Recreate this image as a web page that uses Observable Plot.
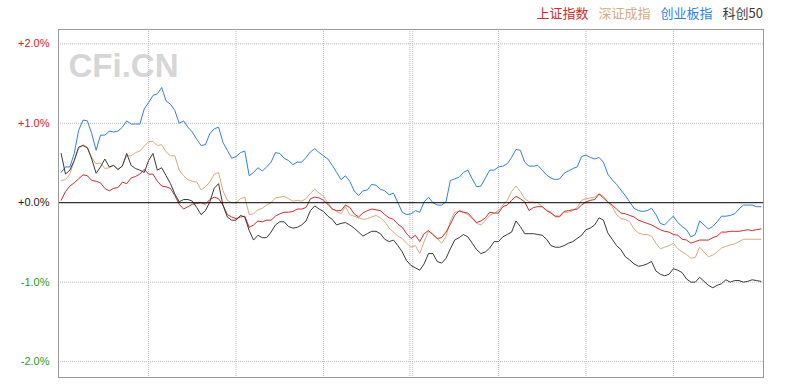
<!DOCTYPE html>
<html>
<head>
<meta charset="utf-8">
<script src="https://cdn.jsdelivr.net/npm/d3@7"></script>
<script src="https://cdn.jsdelivr.net/npm/@observablehq/plot@0.6"></script>
<style>
  html, body { margin: 0; padding: 0; background: #fff; }
  #wrap { position: relative; width: 800px; height: 385px; }
  #legend { position: absolute; top: 6px; right: 37px; font: 13px/14px "Noto Sans CJK SC", sans-serif; white-space: nowrap; }
  #legend span { margin-left: 10px; }
</style>
</head>
<body>
<div id="wrap">
  <div id="chart"></div>
  <div id="legend"></div>
</div>
<script>
// minutes since open (9:30), 1.5-minute samples
const times = [
  0,1.5,3,4.5,6,7.5,9,10.5,12,13.5,
  15,16.5,18,19.5,21,22.5,24,25.5,27,28.5,
  30,31.5,33,34.5,36,37.5,39,40.5,42,43.5,
  45,46.5,48,49.5,51,52.5,54,55.5,57,58.5,
  60,61.5,63,64.5,66,67.5,69,70.5,72,73.5,
  75,76.5,78,79.5,81,82.5,84,85.5,87,88.5,
  90,91.5,93,94.5,96,97.5,99,100.5,102,103.5,
  105,106.5,108,109.5,111,112.5,114,115.5,117,118.5,
  120,121.5,123,124.5,126,127.5,129,130.5,132,133.5,
  135,136.5,138,139.5,141,142.5,144,145.5,147,148.5,
  150,151.5,153,154.5,156,157.5,159,160.5,162,163.5,
  165,166.5,168,169.5,171,172.5,174,175.5,177,178.5,
  180,181.5,183,184.5,186,187.5,189,190.5,192,193.5,
  195,196.5,198,199.5,201,202.5,204,205.5,207,208.5,
  210,211.5,213,214.5,216,217.5,219,220.5,222,223.5,
  225,226.5,228,229.5,231,232.5,234,235.5,237,238.5,
  240];

const seriesNames = ["上证指数", "深证成指", "创业板指", "科创50"];
const seriesColors = ["#d42a2a", "#dba97c", "#2f7ff0", "#3a3a3a"];

// percent change vs previous close
const shIndex = [
  0.03,0.14,0.21,0.25,0.30,0.35,0.34,0.28,0.27,0.25,
  0.18,0.15,0.18,0.19,0.26,0.24,0.31,0.33,0.36,0.42,
  0.36,0.36,0.27,0.21,0.20,0.18,0.09,-0.02,-0.08,-0.05,
  -0.02,-0.01,0.00,-0.02,0.04,0.07,0.05,-0.03,-0.15,-0.18,
  -0.20,-0.18,-0.17,-0.31,-0.28,-0.23,-0.24,-0.22,-0.22,-0.17,
  -0.14,-0.12,-0.12,-0.11,-0.08,-0.08,-0.06,0.05,0.07,0.06,
  0.03,-0.02,-0.08,-0.10,-0.10,-0.03,-0.06,-0.14,-0.18,-0.13,
  -0.10,-0.08,-0.09,-0.10,-0.15,-0.19,-0.21,-0.27,-0.31,-0.39,
  -0.45,-0.41,-0.49,-0.39,-0.35,-0.40,-0.45,-0.44,-0.37,-0.27,
  -0.16,-0.10,-0.12,-0.13,-0.19,-0.25,-0.23,-0.19,-0.12,-0.13,
  -0.13,-0.05,-0.03,0.03,0.08,0.05,0.01,-0.10,-0.06,-0.05,
  -0.05,-0.10,-0.13,-0.17,-0.17,-0.11,-0.10,-0.09,-0.08,-0.03,
  0.01,0.03,0.04,0.11,0.06,0.01,-0.03,-0.08,-0.13,-0.14,
  -0.16,-0.18,-0.22,-0.24,-0.26,-0.28,-0.31,-0.34,-0.36,-0.37,
  -0.40,-0.41,-0.46,-0.47,-0.51,-0.49,-0.47,-0.47,-0.47,-0.44,
  -0.42,-0.37,-0.37,-0.36,-0.36,-0.36,-0.35,-0.34,-0.35,-0.34,
  -0.33];
const szIndex = [
  0.28,0.29,0.36,0.53,0.68,0.73,0.70,0.57,0.49,0.50,
  0.43,0.44,0.47,0.41,0.47,0.59,0.59,0.63,0.65,0.71,
  0.77,0.77,0.72,0.73,0.64,0.59,0.59,0.41,0.34,0.29,
  0.27,0.26,0.16,0.20,0.26,0.36,0.38,0.15,0.03,0.00,
  0.00,0.05,0.07,-0.15,-0.14,-0.09,-0.07,-0.03,0.00,0.06,
  0.07,0.08,0.05,0.02,0.03,0.02,0.05,0.12,0.17,0.12,
  0.08,0.00,-0.08,-0.11,-0.14,-0.05,-0.15,-0.17,-0.19,-0.21,
  -0.20,-0.18,-0.16,-0.19,-0.24,-0.32,-0.37,-0.42,-0.45,-0.51,
  -0.56,-0.54,-0.64,-0.49,-0.36,-0.40,-0.45,-0.51,-0.43,-0.23,
  -0.12,-0.11,-0.12,-0.15,-0.20,-0.26,-0.28,-0.22,-0.16,-0.13,
  -0.10,-0.03,0.03,0.14,0.21,0.14,0.05,0.01,0.01,0.00,
  -0.05,-0.09,-0.12,-0.18,-0.18,-0.12,-0.12,-0.10,-0.06,0.03,
  0.05,0.06,0.07,0.11,0.08,0.01,-0.05,-0.15,-0.20,-0.21,
  -0.24,-0.33,-0.38,-0.40,-0.40,-0.42,-0.51,-0.58,-0.56,-0.54,
  -0.51,-0.58,-0.62,-0.65,-0.70,-0.69,-0.56,-0.62,-0.68,-0.66,
  -0.62,-0.57,-0.55,-0.53,-0.52,-0.49,-0.46,-0.46,-0.46,-0.46,
  -0.46];
const cybIndex = [
  0.38,0.45,0.45,0.62,0.91,1.04,1.03,0.87,0.66,0.85,
  0.85,0.90,0.89,0.90,0.95,1.03,0.99,0.99,0.99,1.18,
  1.26,1.35,1.37,1.45,1.28,1.24,1.16,1.00,1.03,0.95,
  0.89,0.80,0.72,0.73,0.87,0.93,0.95,0.76,0.66,0.56,
  0.58,0.63,0.65,0.34,0.38,0.44,0.40,0.45,0.51,0.63,
  0.62,0.56,0.53,0.48,0.51,0.51,0.57,0.64,0.68,0.63,
  0.59,0.55,0.47,0.38,0.29,0.34,0.27,0.15,0.09,0.15,
  0.16,0.23,0.22,0.17,0.15,0.10,0.12,0.00,-0.12,-0.15,
  -0.14,-0.10,-0.12,0.01,0.07,0.00,-0.03,-0.03,0.01,0.28,
  0.30,0.32,0.38,0.41,0.30,0.20,0.21,0.31,0.41,0.41,
  0.45,0.46,0.49,0.57,0.67,0.66,0.51,0.46,0.46,0.47,
  0.41,0.35,0.31,0.29,0.30,0.37,0.40,0.43,0.45,0.58,
  0.60,0.57,0.55,0.57,0.51,0.36,0.29,0.23,0.16,0.09,
  0.01,-0.07,-0.10,-0.11,-0.10,-0.07,-0.15,-0.26,-0.28,-0.22,
  -0.17,-0.25,-0.30,-0.34,-0.43,-0.40,-0.23,-0.28,-0.33,-0.30,
  -0.24,-0.17,-0.17,-0.16,-0.14,-0.08,-0.03,-0.03,-0.03,-0.05,
  -0.05];
const kc50Index = [
  0.62,0.36,0.41,0.53,0.70,0.72,0.69,0.55,0.37,0.45,
  0.55,0.45,0.47,0.42,0.46,0.62,0.47,0.43,0.41,0.38,
  0.53,0.62,0.41,0.44,0.34,0.24,0.11,0.01,0.04,0.04,
  0.02,-0.06,-0.15,-0.10,0.01,0.18,0.24,-0.03,-0.18,-0.22,
  -0.22,-0.16,-0.18,-0.35,-0.47,-0.41,-0.44,-0.44,-0.37,-0.28,
  -0.24,-0.24,-0.30,-0.32,-0.31,-0.28,-0.23,-0.10,-0.04,-0.08,
  -0.11,-0.17,-0.21,-0.28,-0.26,-0.25,-0.28,-0.32,-0.37,-0.42,
  -0.39,-0.36,-0.36,-0.39,-0.46,-0.49,-0.47,-0.54,-0.62,-0.73,
  -0.79,-0.82,-0.85,-0.77,-0.64,-0.64,-0.74,-0.76,-0.70,-0.58,
  -0.47,-0.44,-0.40,-0.43,-0.51,-0.59,-0.64,-0.62,-0.57,-0.49,
  -0.49,-0.43,-0.40,-0.37,-0.23,-0.30,-0.39,-0.39,-0.39,-0.40,
  -0.41,-0.46,-0.54,-0.56,-0.56,-0.54,-0.51,-0.49,-0.45,-0.41,
  -0.34,-0.32,-0.28,-0.19,-0.22,-0.38,-0.46,-0.54,-0.59,-0.68,
  -0.72,-0.77,-0.80,-0.79,-0.77,-0.74,-0.86,-0.90,-0.92,-0.90,
  -0.83,-0.85,-0.88,-0.96,-1.00,-1.00,-0.94,-0.99,-1.04,-1.07,
  -1.04,-1.02,-0.97,-1.00,-0.98,-0.98,-1.00,-0.99,-0.97,-0.98,
  -0.99];

const yTicks = [-2, -1, 0, 1, 2];
const yTickLabels = ["-2.0%", "-1.0%", "+0.0%", "+1.0%", "+2.0%"];
const xGridTicks = [30, 60, 90, 119.6, 120.6, 150, 180, 210];

const allSeries = [shIndex, szIndex, cybIndex, kc50Index];
const rows = [];
allSeries.forEach((vals, si) => {
  vals.forEach((v, i) => rows.push({t: times[i], v, s: seriesNames[si]}));
});
const drawOrder = ["深证成指", "上证指数", "创业板指", "科创50"];

const labelColor = d => d > 0 ? "#e02020" : d < 0 ? "#1f9a1f" : "#222";

const chart = Plot.plot({
  width: 800,
  height: 385,
  marginLeft: 58,
  marginRight: 37,
  marginTop: 29,
  marginBottom: 8,
  x: {domain: [-0.9, 240.9], axis: null},
  y: {domain: [-2.2, 2.18], axis: null},
  marks: [
    Plot.text(["CFi.CN"], {frameAnchor: "top-left", dx: 10, dy: 24, lineAnchor: "top", textAnchor: "start",
      text: d => d, fontSize: 33, fontWeight: "bold", fontFamily: "Liberation Sans, Arial, sans-serif", fill: "#d6d6d6"}),
    Plot.ruleX(xGridTicks, {stroke: "#bdbdbd", strokeDasharray: "1,1"}),
    Plot.ruleY(yTicks.filter(d => d !== 0), {stroke: "#bdbdbd", strokeDasharray: "1,1"}),
    Plot.text(yTicks, {y: d => d, frameAnchor: "left", dx: -9, textAnchor: "end",
      text: (d, i) => yTickLabels[i], fill: labelColor, fontSize: 11, fontFamily: "Liberation Sans, Arial, sans-serif"}),
    ...drawOrder.map(name => Plot.line(rows.filter(r => r.s === name), {
      x: "t", y: "v", stroke: seriesColors[seriesNames.indexOf(name)], strokeWidth: 1
    })),
    Plot.ruleY([0], {stroke: "#000", strokeWidth: 1}),
    Plot.frame({stroke: "#9a9a9a"})
  ]
});
document.getElementById("chart").appendChild(chart);

const legend = document.getElementById("legend");
seriesNames.forEach((n, i) => {
  const s = document.createElement("span");
  s.textContent = n;
  s.style.color = seriesColors[i] === "#dba97c" ? "#d9ab80" : seriesColors[i];
  legend.appendChild(s);
});
</script>
</body>
</html>
